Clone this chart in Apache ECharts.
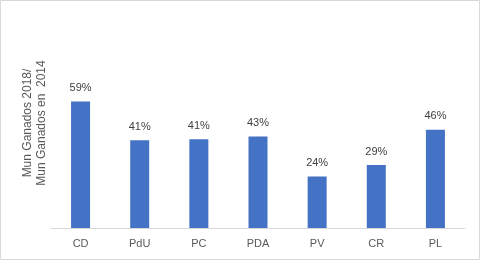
<!DOCTYPE html>
<html>
<head>
<meta charset="utf-8">
<script src="https://cdn.jsdelivr.net/npm/echarts@6/dist/echarts.min.js"></script>
<style>
  html, body { margin: 0; padding: 0; background: #fff; }
  #chart { width: 480px; height: 260px; }
</style>
</head>
<body>
<div id="chart"></div>
<script>
var categories = ["CD", "PdU", "PC", "PDA", "PV", "CR", "PL"];
var ratios = [0.59, 0.409, 0.414, 0.427, 0.24, 0.294, 0.458];
var axisTitle = ["Mun Ganados 2018/", "Mun Ganados en  2014"];

var myChart = echarts.init(document.getElementById("chart"));

var option = {
  animation: false,
  textStyle: { fontFamily: "Liberation Sans" },
  grid: { left: 51, right: 15, top: 78, bottom: 32 },
  graphic: [
    {
      type: "rect",
      shape: { x: 0.5, y: 0.5, width: 479, height: 259 },
      style: { fill: "none", stroke: "#d9d9d9", lineWidth: 1 },
      silent: true
    },
    {
      type: "text",
      x: 35,
      y: 123,
      rotation: Math.PI / 2,
      style: {
        text: axisTitle.join("\n"),
        fill: "#595959",
        fontSize: 12,
        lineHeight: 14,
        fontFamily: "Liberation Sans",
        align: "center",
        verticalAlign: "middle"
      }
    }
  ],
  xAxis: {
    type: "category",
    data: categories,
    axisLine: { lineStyle: { color: "#d9d9d9" } },
    axisTick: { show: false },
    axisLabel: { color: "#595959", fontSize: 11, margin: 10 }
  },
  yAxis: {
    type: "value",
    min: 0,
    max: 0.7,
    show: false
  },
  series: [
    {
      type: "bar",
      data: ratios,
      barWidth: 19,
      itemStyle: { color: "#4472C4" },
      label: {
        show: true,
        position: "top",
        distance: 8,
        color: "#404040",
        fontSize: 11,
        formatter: function (p) {
          return Math.round(p.value * 100) + "%";
        }
      }
    }
  ]
};

myChart.setOption(option);
</script>
</body>
</html>
